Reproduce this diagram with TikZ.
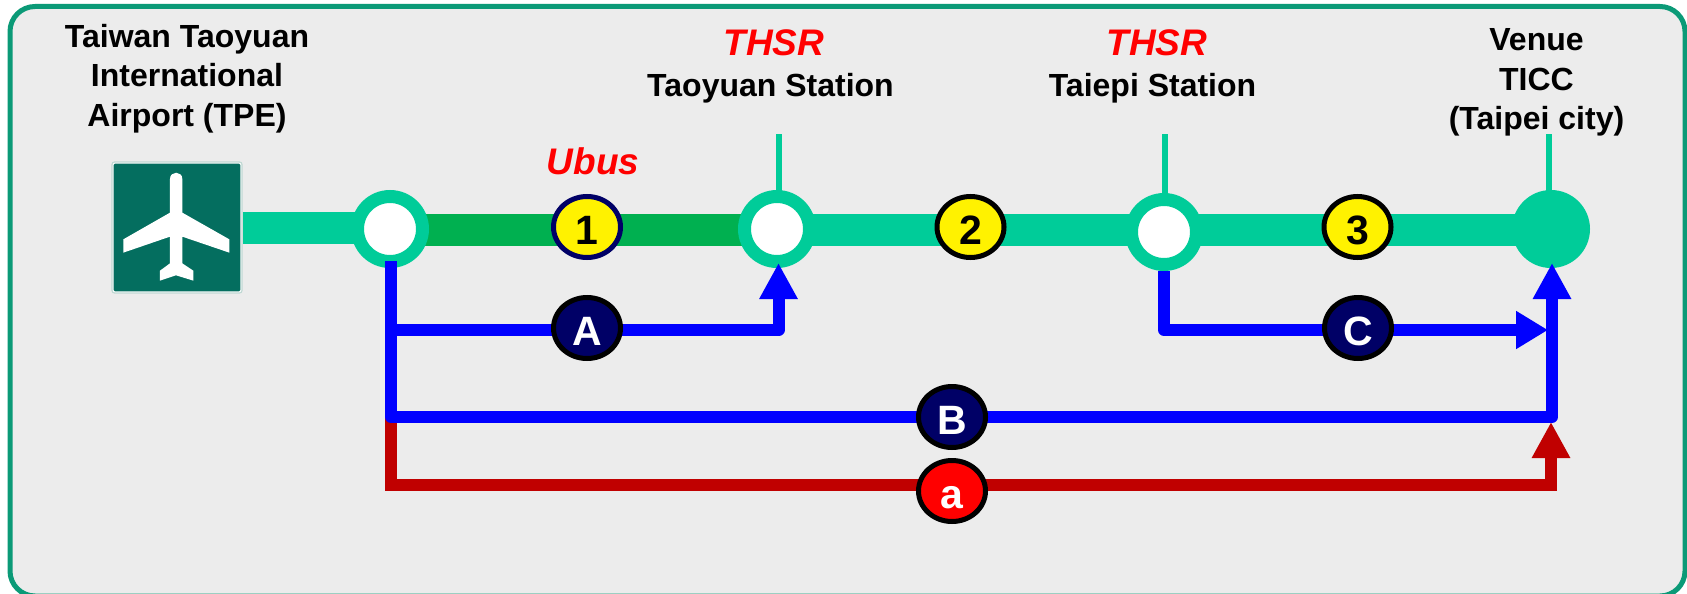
\documentclass[tikz,border=0pt]{standalone}
\usepackage{fontspec}
\setmainfont{Liberation Sans}
\usetikzlibrary{arrows.meta,shapes.geometric,backgrounds,calc}
\definecolor{teal1}{HTML}{00CC99}
\definecolor{green1}{HTML}{00B050}
\definecolor{frameg}{HTML}{0B9A77}
\definecolor{panel}{HTML}{ECECEC}
\definecolor{signg}{HTML}{046E5F}
\definecolor{signb}{HTML}{BFD8D3}
\definecolor{navy1}{HTML}{000066}
\definecolor{darkred1}{HTML}{C00000}
\tikzset{
  label31/.style={font=\bfseries\fontsize{32}{39.5}\selectfont,align=center,inner sep=0pt,anchor=north,text=black},
  labelred/.style={font=\bfseries\itshape\fontsize{37}{40}\selectfont,inner sep=0pt,anchor=base,text=red},
  station/.style={circle,draw=teal1,line width=13pt,fill=white,minimum size=65pt,inner sep=0pt},
  terminus/.style={circle,fill=teal1,minimum size=78pt,inner sep=0pt},
  bar/.style={line width=32pt,draw=teal1},
  tick/.style={line width=6.5pt,draw=teal1},
  badge/.style={ellipse,line width=5pt,draw=black,minimum width=67pt,minimum height=61pt,inner sep=0pt,
    font=\bfseries\fontsize{41}{41}\selectfont,text height=34pt,text depth=0pt},
  yellowb/.style={badge,fill=yellow,text=black},
  navyb/.style={badge,fill=navy1,text=white},
  redb/.style={badge,fill=red,text=white},
  route/.style={line width=12pt,draw=blue,line join=round,-{Triangle[width=36pt,length=36pt]}},
  routeshort/.style={line width=12pt,draw=blue,line join=round,-{Triangle[width=36pt,length=32pt]}},
  redroute/.style={line width=12pt,draw=darkred1,-{Triangle[width=36pt,length=36pt]}},
}
\begin{document}
\begin{tikzpicture}[x=1pt,y=-1pt]
\useasboundingbox (0,0) rectangle (1687,594);
\begin{scope}[on background layer]
  \fill[white] (0,0) rectangle (1687,594);
  \draw[frameg,line width=5pt,fill=panel,rounded corners=25pt] (10,6.5) rectangle (1685,596);
\end{scope}
% airport sign
\node[draw=signb,line width=1.2pt,fill=white,rounded corners=2.5pt,minimum width=130pt,minimum height=131pt,inner sep=0pt] (sign) at (177,227.5) {};
\fill[signg,rounded corners=1.5pt] (113.6,163.6) rectangle (240.4,291.4);
\begin{scope}[shift={(90,140)},x=0.3333pt,y=-0.3333pt]
  \fill[white] (240,117) .. controls (240,92) and (277,92) .. (277,117) -- (277,218) -- (418,298) -- (418,338) -- (277,290) -- (277,370) -- (310,392) -- (310,422) -- (258,406) -- (210,422) -- (210,392) -- (240,370) -- (240,290) -- (100,338) -- (100,298) -- (240,218) -- cycle;
\end{scope}
% stations
\node[station] (s1) at (390,229) {};
\node[station] (s2) at (777,229) {};
\node[station] (s3) at (1164,232) {};
\node[terminus] (s4) at (1551,229) {};
\coordinate (t2) at (779,134);
\coordinate (t3) at (1165,134);
\coordinate (t4) at (1549,134);
\begin{scope}[on background layer]
  \draw[bar] (sign.east) -- (sign.east -| s1);
  \draw[bar,draw=green1] ($(s1.center)+(0,1)$) -- ($(s2.center)+(0,1)$);
  \draw[bar] ($(s2.center)+(0,.5)$) -- ($(s3.center |- s2.center)+(0,.5)$);
  \draw[bar] ($(s3.center |- s4.center)+(0,.5)$) -- ($(s4.center)+(0,.5)$);
  \draw[tick] (t2) -- (t2 |- s2.center);
  \draw[tick] (t3) -- (t3 |- s3.center);
  \draw[tick] (t4) -- (t4 |- s4.center);
\end{scope}
% route anchors
\coordinate (o1) at (391,261);
\coordinate (o3) at (1164,271);
\coordinate (tipA) at (778.5,263);
\coordinate (tipB) at (1552,263);
\coordinate (tipC) at (1548,330);
\coordinate (tipR) at (1551,422);
\coordinate (oR) at (391,417);
\coordinate (ya) at (0,330);
\coordinate (yb) at (0,417);
\coordinate (yr) at (0,485);
\draw[redroute] (oR) -- (oR |- yr) -- (tipR |- yr) -- (tipR);
\draw[route] (o1) -- (o1 |- ya) -- (tipA |- ya) -- (tipA);
\draw[routeshort] (o3) -- (o3 |- tipC) -- (tipC);
\draw[route] (o1) -- (o1 |- yb) -- (tipB |- yb) -- (tipB);
% badges
\node[yellowb,draw=navy1] (b1) at (587,227) {1};
\node[yellowb] (b2) at (970.5,227) {2};
\node[yellowb] (b3) at (1357.5,227) {3};
\node[navyb] (bA) at (587,328) {A};
\node[navyb] (bC) at (1358,328) {C};
\node[navyb] (bB) at (952,417) {B};
\node[redb] (ba) at (952,491) {a};
% labels
\node[label31] (lt) at (187,24) {Taiwan Taoyuan\\International\\Airport (TPE)};
\node[labelred] (l2a) at (774,56) {THSR};
\node[label31,anchor=base] (l2b) at (770.5,96) {Taoyuan Station};
\node[labelred] (l3a) at (1157,56) {THSR};
\node[label31,anchor=base] (l3b) at (1152.5,96) {Taiepi Station};
\node[labelred] (lu) at (593,174) {Ubus};
\node[label31] (lv) at (1536.5,28.5) {Venue\\TICC\\(Taipei city)};
\end{tikzpicture}
\end{document}
